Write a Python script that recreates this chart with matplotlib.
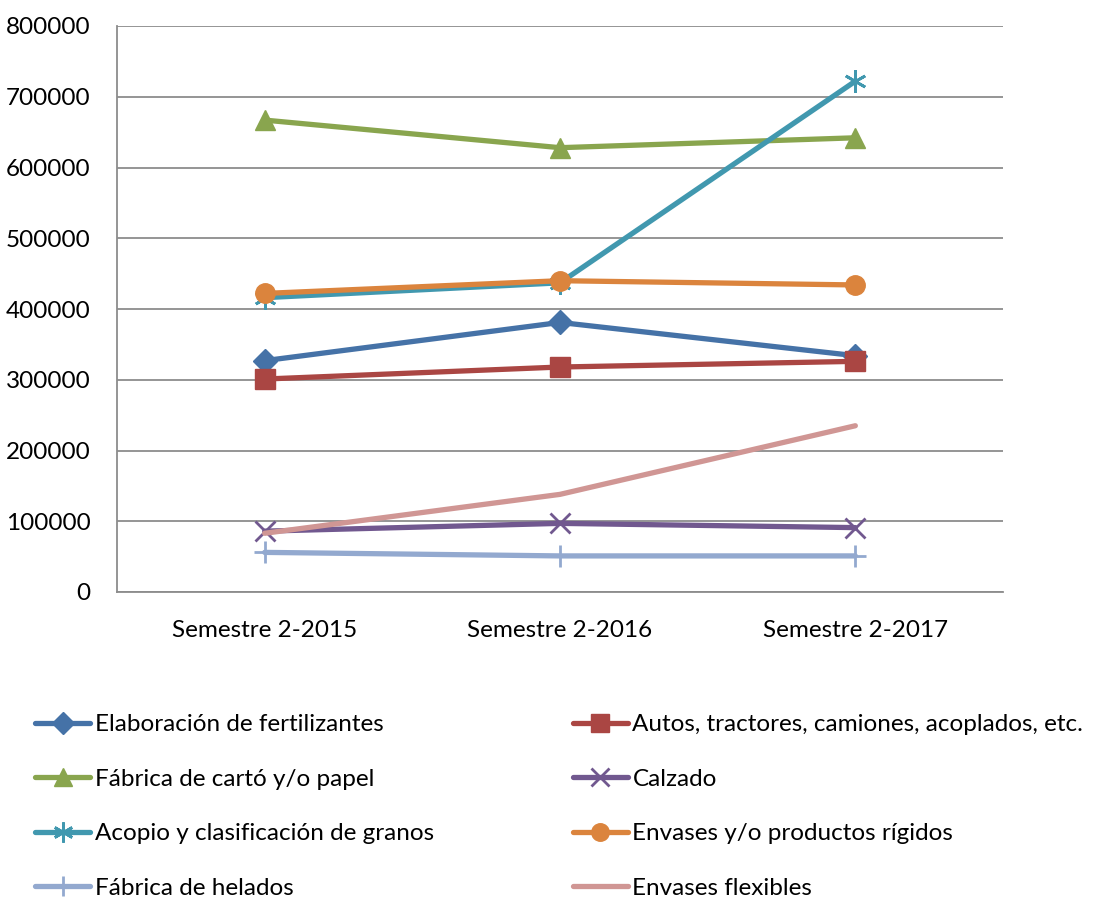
import matplotlib.pyplot as plt
import numpy as np

plt.rcParams['font.family'] = ['Lato', 'DejaVu Sans']

# categories on the x axis
semestres = ["Semestre 2-2015", "Semestre 2-2016", "Semestre 2-2017"]

# values per series
fertilizantes = [327000, 381000, 334000]
autos = [301000, 318000, 326000]
carton = [667000, 628000, 642000]
calzado = [86000, 97000, 91000]
granos = [416000, 437000, 722000]
rigidos = [422000, 440000, 434000]
helados = [56000, 51000, 51000]
flexibles = [83000, 138000, 235000]

nombres = ["Elaboración de fertilizantes", "Autos, tractores, camiones, acoplados, etc.",
           "Fábrica de cartó y/o papel", "Calzado",
           "Acopio y clasificación de granos", "Envases y/o productos rígidos",
           "Fábrica de helados", "Envases flexibles"]

fig = plt.figure(figsize=(10.97, 8.99), dpi=100)
ax = fig.add_axes([117/1097, 1-592/899, (1003-117)/1097, (592-26)/899])

x = np.arange(len(semestres))
series = [
    (fertilizantes, '#4572A7', 'D', 12, {}),
    (autos, '#AA4643', 's', 14, {}),
    (carton, '#89A54E', '^', 14, {}),
    (calzado, '#71588F', 'x', 14, {'markeredgewidth': 2}),
    (granos, '#4198AF', (6, 2, 0), 16, {'markeredgewidth': 2}),
    (rigidos, '#DB843D', 'o', 14, {}),
    (helados, '#93A9CF', '+', 16, {'markeredgewidth': 2}),
    (flexibles, '#D09694', None, 0, {}),
]
handles = []
for (vals, col, mk, ms, extra), nom in zip(series, nombres):
    h, = ax.plot(x, vals, color=col, lw=3.8, marker=mk, markersize=ms,
                 label=nom, solid_capstyle='round', **extra)
    handles.append(h)

ax.set_xlim(-0.5, 2.5)
ax.set_ylim(0, 800000)
ax.set_yticks(np.arange(0, 800001, 100000))
ax.set_yticklabels([str(v) for v in range(0, 800001, 100000)])
ax.set_xticks(x)
ax.set_xticklabels(semestres)
ax.tick_params(axis='both', labelsize=17.5, length=0, colors='black')
ax.tick_params(axis='x', pad=20)
ax.tick_params(axis='y', pad=19)
ax.grid(axis='y', color='#8C8C8C', lw=1.3)
ax.set_axisbelow(True)
for s in ['top', 'right']:
    ax.spines[s].set_visible(False)
ax.spines['left'].set_color('#8C8C8C')
ax.spines['bottom'].set_color('#8C8C8C')
ax.spines['left'].set_linewidth(1.3)
ax.spines['bottom'].set_linewidth(1.3)

# legend laid out row by row like the original
orden = [0, 2, 4, 6, 1, 3, 5, 7]
fig.legend([handles[i] for i in orden], [nombres[i] for i in orden],
           ncol=2, loc='upper left', bbox_to_anchor=(23/1097, 1-702/899),
           frameon=False, fontsize=17.5, handlelength=2.26, handletextpad=0.2,
           columnspacing=5.7, labelspacing=1.38, borderpad=0, markerscale=0.9)

fig.savefig('out.png', dpi=100)
